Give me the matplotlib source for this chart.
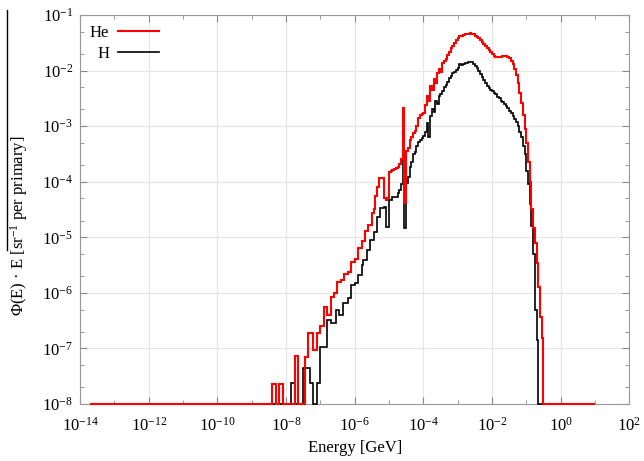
import numpy as np
import matplotlib
matplotlib.use("Agg")
import matplotlib.pyplot as plt
from matplotlib.lines import Line2D
from matplotlib.ticker import FixedLocator, LogLocator, LogFormatterSciNotation, NullFormatter

plt.rcParams.update({
    "font.family": ["Liberation Serif", "DejaVu Serif"],
    "mathtext.fontset": "custom",
    "mathtext.rm": "Liberation Serif",
    "mathtext.it": "Liberation Serif:italic",
    "font.size": 11,
})

# histogram binning in log10(E / GeV): 0.05 dex bins, first bin starts at 10^-8.5
LOGE_FIRST = -8.5
DEX_PER_BIN = 0.05
E_RANGE = (2e-14, 10.0)      # histogram range; bins outside the lists are empty
FLOOR = 1e-8                 # empty bins sit on the bottom of the plot

# log10 of Phi(E)*E per bin, None = empty bin (each row is half a decade)
he_log = [
    None, None, -7.64, -7.64, None, None, -7.64, -7.64, None, None,        # -8.5
    None, None, None, None, None, -7.14, -7.14, None, None, None,          # -8.0
    None, -7.16, -7.16, -6.73, -6.73, -6.73, -7.03, -7.03, -6.73, -6.73,   # -7.5
    -6.6, -6.6, -6.25, -6.25, -6.4, -6.4, -6.07, -6.07, -6.0, -6.0,        # -7.0
    -5.8, -5.8, -5.76, -5.76, -5.66, -5.66, -5.62, -5.62, -5.45, -5.45,    # -6.5
    -5.39, -5.39, -5.2, -5.2, -5.07, -5.07, -4.89, -4.89, -4.78, -4.78,    # -6.0
    -4.57, -4.5, -4.25, -4.09, -3.94, -3.94, -3.94, -4.3, -4.33, -4.3,     # -5.5
    -3.82, -3.8, -3.79, -3.78, -3.76, -3.74, -3.68, -3.6, -2.68, -4.39,    # -5.0
    -3.45, -3.4, -3.25, -3.2, -3.12, -3.08, -3.0, -2.86, -2.8, -2.79,      # -4.5
    -2.76, -2.62, -2.45, -2.55, -2.28, -2.35, -2.15, -2.22, -2.05, -1.98,  # -4.0
    -2.02, -1.86, -1.82, -1.79, -1.72, -1.66, -1.6, -1.55, -1.5, -1.45,   # -3.5
    -1.42, -1.38, -1.37, -1.36, -1.35, -1.35, -1.34, -1.33, -1.34, -1.35,  # -3.0
    -1.37, -1.39, -1.42, -1.45, -1.48, -1.52, -1.55, -1.59, -1.63, -1.66,  # -2.5
    -1.7, -1.73, -1.75, -1.76, -1.76, -1.75, -1.74, -1.74, -1.74, -1.75,   # -2.0
    -1.78, -1.82, -1.88, -1.97, -2.08, -2.22, -2.4, -2.58, -2.8, -3.05,    # -1.5
    -3.3, -3.65, -4.0, -4.5, -4.84, -5.1, -5.47, -5.9, -6.43, -6.82,       # -1.0
]
h_log = [
    None, None, None, None, None, None, None, None, None, None,            # -8.5
    None, None, None, -7.62, -7.62, None, None, None, None, None,          # -8.0
    -7.35, -7.35, -7.35, -7.35, -7.62, -7.62, None, None, -7.62, -7.62,    # -7.5
    -6.97, -6.97, -6.97, -6.97, -6.49, -6.49, -6.55, -6.55, -6.55, -6.3,   # -7.0
    -6.3, -6.4, -6.4, -6.19, -6.19, -6.19, -6.1, -6.1, -5.86, -5.86,       # -6.5
    -5.83, -5.83, -5.68, -5.68, -5.5, -5.41, -5.41, -5.23, -5.23, -5.05,   # -6.0
    -5.05, -4.9, -4.9, -4.63, -4.63, -4.48, -4.48, -4.45, -4.81, -4.81,    # -5.5
    -4.33, -4.33, -4.27, -4.27, -4.27, -4.2, -4.15, -4.05, -3.13, -4.84,   # -5.0
    -4.03, -3.91, -3.73, -3.64, -3.5, -3.46, -3.35, -3.28, -3.25, -3.22,   # -4.5
    -3.18, -3.1, -2.95, -3.2, -2.82, -2.7, -2.75, -2.55, -2.6, -2.45,      # -4.0
    -2.42, -2.36, -2.3, -2.26, -2.2, -2.14, -2.1, -2.05, -2.02, -1.99,     # -3.5
    -1.95, -1.88, -1.9, -1.88, -1.87, -1.86, -1.85, -1.84, -1.85, -1.88,   # -3.0
    -1.92, -1.96, -2.01, -2.07, -2.12, -2.17, -2.23, -2.27, -2.31, -2.35,  # -2.5
    -2.37, -2.4, -2.43, -2.47, -2.5, -2.54, -2.57, -2.61, -2.64, -2.68,    # -2.0
    -2.72, -2.76, -2.81, -2.87, -2.93, -3.0, -3.1, -3.2, -3.35, -3.5,      # -1.5
    -3.8, -4.05, -4.4, -4.8, -5.3, -6.3, -6.85, None, None, None,          # -1.0
]

x_major = [1e-14, 1e-12, 1e-10, 1e-8, 1e-6, 1e-4, 1e-2, 1e0, 1e2]
x_minor = [1e-13, 1e-11, 1e-9, 1e-7, 1e-5, 1e-3, 1e-1, 1e1]


def stairs_data(logs):
    vals = [FLOOR if v is None else 10.0 ** v for v in logs]
    inner = 10.0 ** (LOGE_FIRST + DEX_PER_BIN * np.arange(len(vals) + 1))
    edges = np.concatenate([[E_RANGE[0]], inner, [E_RANGE[1]]])
    return np.array([FLOOR] + vals + [FLOOR]), edges


fig = plt.figure(figsize=(6.44, 4.61), dpi=100)
ax = fig.add_axes([80 / 644, 57 / 461, 549.3 / 644, 389 / 461])

v, e = stairs_data(h_log)
ax.stairs(v, e, baseline=None, color="black", lw=1.2, clip_on=False, zorder=3)
v, e = stairs_data(he_log)
ax.stairs(v, e, baseline=None, color="#ff0000", lw=1.5, clip_on=False, zorder=4)

ax.set_xscale("log"); ax.set_yscale("log")
ax.set_xlim(1e-14, 1e2); ax.set_ylim(1e-8, 1e-1)
ax.xaxis.set_major_locator(FixedLocator(x_major))
ax.xaxis.set_minor_locator(FixedLocator(x_minor))
ax.xaxis.set_major_formatter(LogFormatterSciNotation())
ax.xaxis.set_minor_formatter(NullFormatter())
ax.yaxis.set_major_locator(LogLocator(base=10, numticks=12))
ax.yaxis.set_minor_locator(LogLocator(base=10, subs=(2, 5), numticks=12))
ax.yaxis.set_minor_formatter(NullFormatter())
ax.tick_params(which="both", direction="in", top=True, right=True, color="#888888")
ax.tick_params(which="major", length=5, labelsize=12)
ax.tick_params(which="minor", length=3)
ax.tick_params(axis="x", pad=9)
ax.tick_params(axis="y", pad=5)
for s in ax.spines.values():
    s.set_color("#999999")
ax.grid(True, which="major", color="#e6e6e6", lw=0.8)
ax.set_axisbelow(True)

ax.set_xlabel("Energy [GeV]", fontsize=12, labelpad=4)
fig.text(19 / 644, 1 - 226 / 461, r"$\Phi$(E) · E [sr$^{-1}$ per primary]",
         rotation=90, ha="center", va="center", fontsize=12)
fig.add_artist(Line2D([7 / 644, 7 / 644], [1 - 10 / 461, 1 - 250 / 461],
                      transform=fig.transFigure, color="black", lw=1))

handles = [Line2D([], [], color="#ff0000", lw=1.5, label="He"),
           Line2D([], [], color="black", lw=1.2, label="H")]
ax.legend(handles=handles, loc="upper left", frameon=False, markerfirst=False,
          handlelength=2.5, handletextpad=0.5, labelspacing=0.3,
          borderaxespad=0.3, borderpad=0.3, fontsize=12)

fig.savefig("out.png", dpi=100)
